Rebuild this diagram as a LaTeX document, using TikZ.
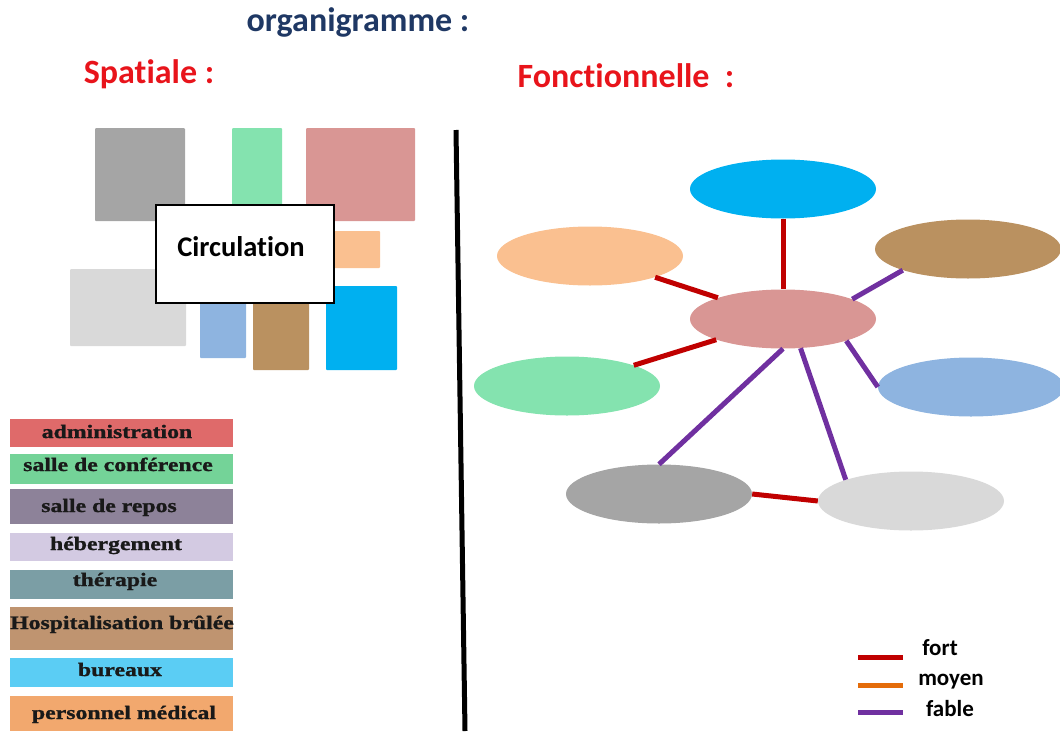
\documentclass[tikz,border=0pt]{standalone}
\usepackage{fontspec}
\usetikzlibrary{shapes.geometric}
\newfontfamily\calf[Ligatures={NoCommon,NoRare,NoContextual}]{Carlito}
\newfontfamily\legf[FakeStretch=1.25,FakeBold=1.2]{Liberation Serif}
\definecolor{ttl}{HTML}{1F3864}
\definecolor{redt}{HTML}{E8141B}
\definecolor{cdgrey}{HTML}{A5A5A5}
\definecolor{cgreen}{HTML}{84E3AF}
\definecolor{cpink}{HTML}{D99694}
\definecolor{cpeach}{HTML}{FAC090}
\definecolor{clgrey}{HTML}{D9D9D9}
\definecolor{cbgrey}{HTML}{8EB4E0}
\definecolor{cbrown}{HTML}{BA9160}
\definecolor{cblue}{HTML}{00B0F0}
\definecolor{lfort}{HTML}{C00000}
\definecolor{lmoyen}{HTML}{E46C0A}
\definecolor{lfable}{HTML}{7030A0}
\definecolor{b1}{HTML}{DF6A6A}
\definecolor{b2}{HTML}{74D398}
\definecolor{b3}{HTML}{8D8299}
\definecolor{b4}{HTML}{D3CAE2}
\definecolor{b5}{HTML}{7B9EA5}
\definecolor{b6}{HTML}{BF9470}
\definecolor{b7}{HTML}{5BCDF4}
\definecolor{b8}{HTML}{F2A86E}
\tikzset{
  room/.style={fill=#1, draw=none, rounded corners=1pt},
  oval/.style={ellipse, fill=#1, draw=none, minimum width=186pt, minimum height=59pt, inner sep=0pt},
  link/.style={line width=5pt, draw=#1},
  bar/.style={fill=#1, draw=none},
  bartxt/.style={font=\legf\fontsize{19}{19}\selectfont\bfseries, text=black!90, anchor=base, inner sep=0pt},
  head/.style={font=\calf\fontsize{34}{34}\selectfont\bfseries, anchor=base, inner sep=0pt},
  keytxt/.style={font=\calf\fontsize{23}{23}\selectfont\bfseries, anchor=base, inner sep=0pt}
}
\begin{document}
\begin{tikzpicture}[x=1pt,y=-1pt]
\useasboundingbox (0,0) rectangle (1060,731);
% titles
\node[head, text=ttl] (title) at (358,31) {organigramme :};
\node[head, text=redt] (spat) at (149,83) {Spatiale :};
\node[head, text=redt] (fonc) at (626,87) {Fonctionnelle\ \ :};
% spatial plan
\fill[room=cdgrey] (95,128) rectangle (185,221);
\fill[room=cgreen] (232,128) rectangle (282,210);
\fill[room=cpink] (306,128) rectangle (415,221);
\fill[room=cpeach] (330,231) rectangle (380,268);
\fill[room=clgrey] (70,269) rectangle (186,346);
\fill[room=cbgrey] (200,300) rectangle (246,358);
\fill[room=cbrown] (253,300) rectangle (309,370);
\fill[room=cblue] (326,286) rectangle (397,370);
\node[draw=black, line width=2pt, fill=white, minimum width=178pt, minimum height=98pt, inner sep=0pt] (circ) at (244.5,253.5) {};
\node[font=\calf\fontsize{28.5}{28.5}\selectfont\bfseries, anchor=base, inner sep=0pt] (circt) at (241,256) {Circulation};
% legend bars
\fill[bar=b1] (10,419) rectangle (233,447);
\fill[bar=b2] (10,454) rectangle (233,484);
\fill[bar=b3] (10,489) rectangle (233,524);
\fill[bar=b4] (10,533) rectangle (233,561);
\fill[bar=b5] (10,570) rectangle (233,599);
\fill[bar=b6] (10,607) rectangle (233,650);
\fill[bar=b7] (10,658) rectangle (233,687);
\fill[bar=b8] (10,696) rectangle (233,731);
\node[bartxt] (t1) at (117,438) {administration};
\node[bartxt] (t2) at (118,471) {salle de conférence};
\node[bartxt] (t3) at (109,512) {salle de repos};
\node[bartxt] (t4) at (116,550) {hébergement};
\node[bartxt] (t5) at (115,586) {thérapie};
\node[bartxt] (t6) at (122,629) {Hospitalisation brûlée};
\node[bartxt] (t7) at (120,676) {bureaux};
\node[bartxt] (t8) at (124,719) {personnel médical};
% divider
\coordinate (d1) at (456,130);
\coordinate (d2) at (465,731);
\draw[line width=5pt, black] (d1) -- (d2);
% functional diagram
\node[oval=cblue] (blue) at (783,189) {};
\node[oval=cpeach] (peach) at (590,256) {};
\node[oval=cbrown] (brown) at (968,249) {};
\node[oval=cpink] (ctr) at (783,319) {};
\node[oval=cgreen] (green) at (567,386) {};
\node[oval=cbgrey] (lblue) at (971,387) {};
\node[oval=cdgrey] (dgrey) at (659,494) {};
\node[oval=clgrey] (lgrey) at (911,501) {};
\draw[link=lfort] (blue.south) -- (ctr.north);
\draw[link=lfort] (peach) -- (ctr);
\draw[link=lfort] (green) -- (ctr);
\draw[link=lfable] (ctr.16) -- (brown.198);
\draw[link=lfable] (ctr.-19) -- (lblue.180);
\draw[link=lfable] (ctr.south) -- (dgrey.north);
\draw[link=lfable] (ctr.301) -- (lgrey.162);
\draw[link=lfort] (dgrey.east) -- (lgrey.west);
% key
\coordinate (k1a) at (858,657); \coordinate (k1b) at (903,657);
\coordinate (k2a) at (858,685); \coordinate (k2b) at (903,685);
\coordinate (k3a) at (858,712); \coordinate (k3b) at (903,712);
\draw[link=lfort] (k1a) -- (k1b);
\draw[link=lmoyen] (k2a) -- (k2b);
\draw[link=lfable] (k3a) -- (k3b);
\node[keytxt] (kf) at (940,655) {fort};
\node[keytxt] (km) at (951,685) {moyen};
\node[keytxt] (kb) at (950,716) {fable};
\end{tikzpicture}
\end{document}
